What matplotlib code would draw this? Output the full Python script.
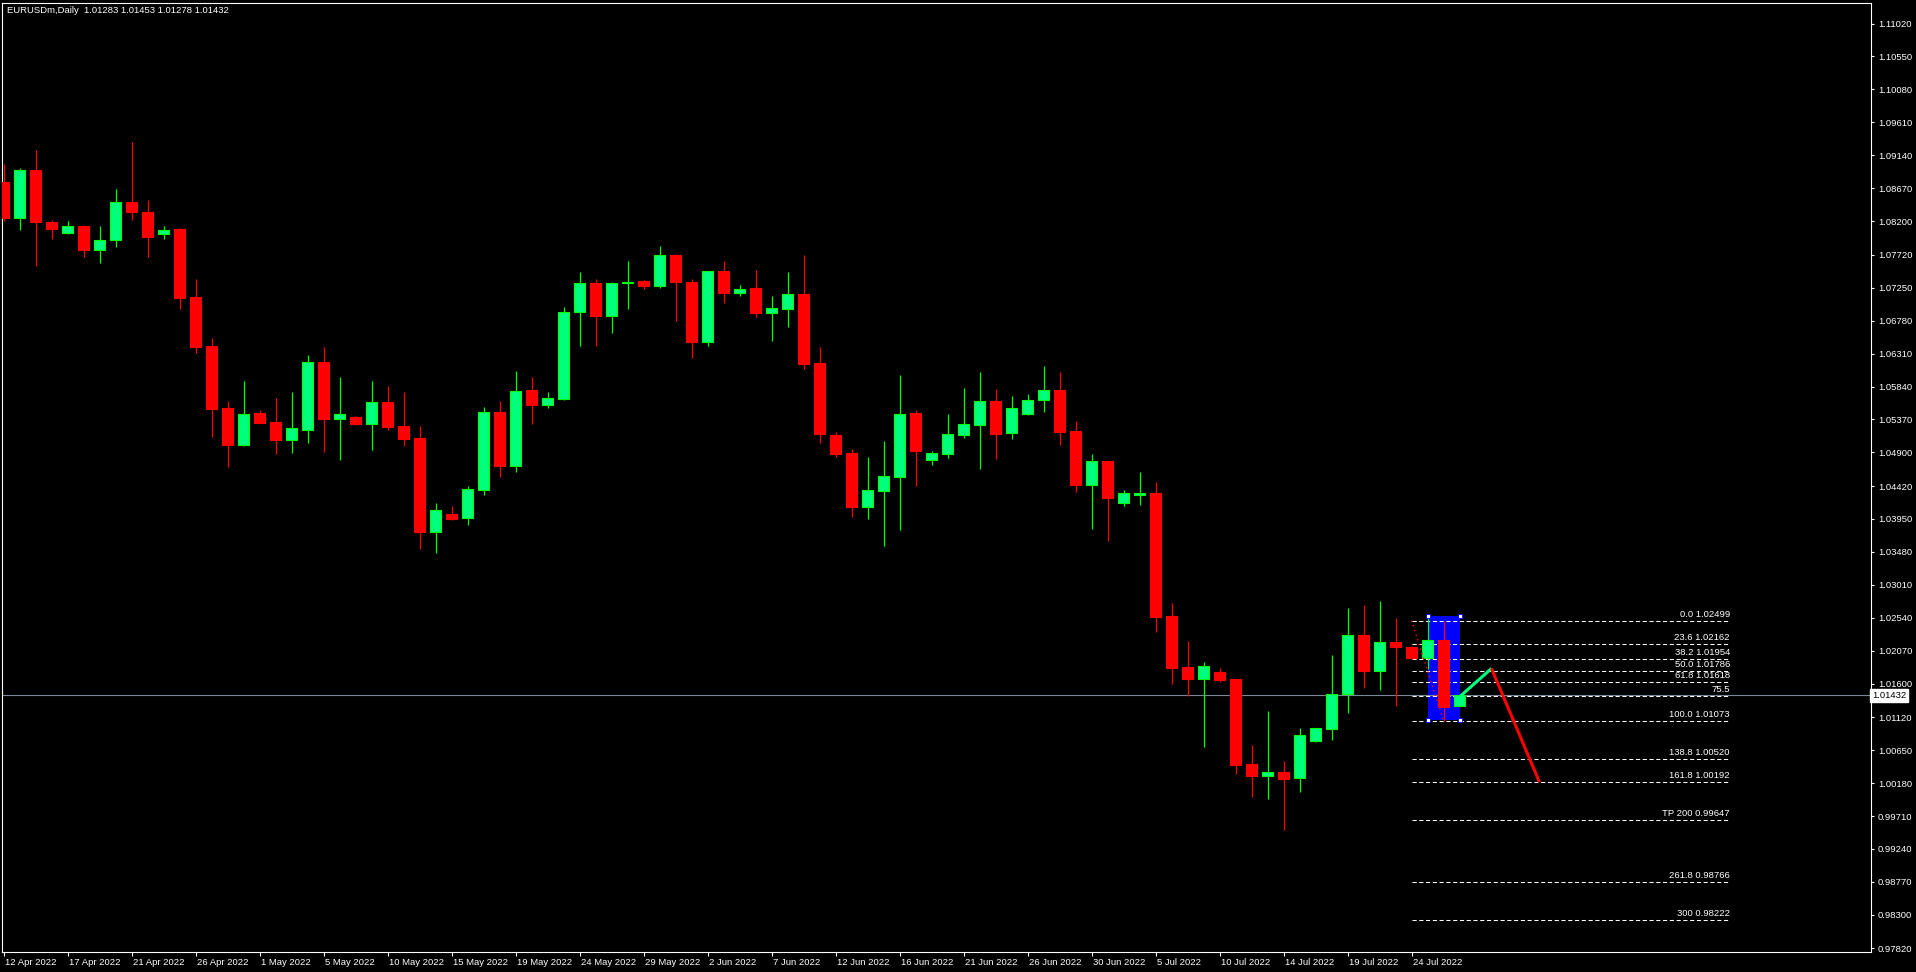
import matplotlib
matplotlib.use("Agg")
import matplotlib.pyplot as plt
import matplotlib.transforms as mtransforms
import numpy as np

# ---------------- data ----------------
title_text = "EURUSDm,Daily  1.01283 1.01453 1.01278 1.01432"

opens = [1.08763, 1.08239, 1.08929, 1.08187, 1.08025, 1.08134, 1.07782, 1.07924, 1.08472, 1.08329,
         1.08010, 1.08086, 1.07115, 1.06415, 1.05529, 1.05010, 1.05458, 1.05329, 1.05082, 1.05225,
         1.06191, 1.05382, 1.05406, 1.05310, 1.05620, 1.05277, 1.05106, 1.03768, 1.04020, 1.03968,
         1.04368, 1.05477, 1.04710, 1.05791, 1.05582, 1.05668, 1.06900, 1.07320, 1.06849, 1.07310,
         1.07349, 1.07268, 1.07720, 1.07334, 1.06482, 1.07491, 1.07168, 1.07249, 1.06882, 1.06953,
         1.07163, 1.06177, 1.05149, 1.04891, 1.04125, 1.04353, 1.04553, 1.05463, 1.04796, 1.04882,
         1.05153, 1.05296, 1.05634, 1.05182, 1.05448, 1.05653, 1.05791, 1.05206, 1.04434, 1.04777,
         1.04182, 1.04296, 1.04320, 1.02563, 1.01834, 1.01668, 1.01763, 1.01663, 1.00449, 1.00282,
         1.00334, 1.00253, 1.00782, 1.00953, 1.01453, 1.02291, 1.01782, 1.02191, 1.02120, 1.01963,
         1.02220, 1.01283]
highs = [1.09020, 1.08958, 1.09220, 1.08220, 1.08206, 1.08148, 1.08134, 1.08662, 1.09334, 1.08505,
         1.08134, 1.08105, 1.07377, 1.06534, 1.05634, 1.05920, 1.05505, 1.05677, 1.05762, 1.06291,
         1.06406, 1.05977, 1.05420, 1.05920, 1.05849, 1.05763, 1.05277, 1.04177, 1.04134, 1.04420,
         1.05549, 1.05634, 1.06063, 1.05977, 1.05763, 1.06970, 1.07480, 1.07370, 1.07334, 1.07634,
         1.07355, 1.07849, 1.07734, 1.07377, 1.07491, 1.07634, 1.07291, 1.07506, 1.07134, 1.07477,
         1.07720, 1.06406, 1.05191, 1.04949, 1.04834, 1.05063, 1.06006, 1.05506, 1.04920, 1.05449,
         1.05820, 1.06049, 1.05806, 1.05706, 1.05734, 1.06134, 1.06049, 1.05349, 1.04877, 1.04780,
         1.04363, 1.04620, 1.04477, 1.02749, 1.02206, 1.01906, 1.01820, 1.01670, 1.00720, 1.01206,
         1.00491, 1.00963, 1.00963, 1.02006, 1.02677, 1.02720, 1.02777, 1.02534, 1.02140, 1.02563,
         1.02499, 1.01453]
lows = [1.08196, 1.08068, 1.07553, 1.07939, 1.08010, 1.07682, 1.07596, 1.07824, 1.08210, 1.07682,
        1.07939, 1.06939, 1.06324, 1.05124, 1.04696, 1.04996, 1.05320, 1.04882, 1.04896, 1.05039,
        1.04910, 1.04796, 1.05287, 1.04939, 1.05225, 1.04996, 1.03525, 1.03468, 1.03939, 1.03868,
        1.04296, 1.04553, 1.04625, 1.05310, 1.05539, 1.05653, 1.06420, 1.06420, 1.06606, 1.06949,
        1.07234, 1.07249, 1.06768, 1.06253, 1.06425, 1.07025, 1.07125, 1.06825, 1.06496, 1.06696,
        1.06096, 1.05039, 1.04839, 1.03982, 1.03953, 1.03568, 1.03796, 1.04420, 1.04720, 1.04820,
        1.05106, 1.04663, 1.04806, 1.05091, 1.05440, 1.05477, 1.05006, 1.04334, 1.03806, 1.03634,
        1.04134, 1.04149, 1.02334, 1.01596, 1.01420, 1.00691, 1.01620, 1.00310, 0.99982, 0.99953,
        0.99510, 1.00053, 1.00768, 1.00796, 1.01182, 1.01539, 1.01510, 1.01282, 1.01950, 1.01810,
        1.01073, 1.01278]
closes = [1.08239, 1.08929, 1.08182, 1.08082, 1.08130, 1.07782, 1.07929, 1.08472, 1.08324, 1.07967,
          1.08072, 1.07110, 1.06410, 1.05524, 1.05010, 1.05443, 1.05324, 1.05082, 1.05243, 1.06191,
          1.05382, 1.05449, 1.05310, 1.05620, 1.05268, 1.05096, 1.03768, 1.04077, 1.03953, 1.04377,
          1.05477, 1.04710, 1.05777, 1.05582, 1.05677, 1.06900, 1.07320, 1.06849, 1.07320, 1.07334,
          1.07268, 1.07720, 1.07325, 1.06482, 1.07491, 1.07168, 1.07234, 1.06882, 1.06963, 1.07163,
          1.06168, 1.05168, 1.04882, 1.04125, 1.04363, 1.04563, 1.05449, 1.04925, 1.04887, 1.05163,
          1.05306, 1.05634, 1.05168, 1.05534, 1.05649, 1.05791, 1.05196, 1.04434, 1.04777, 1.04253,
          1.04320, 1.04320, 1.02553, 1.01825, 1.01668, 1.01849, 1.01653, 1.00439, 1.00282, 1.00334,
          1.00239, 1.00863, 1.00963, 1.01449, 1.02291, 1.01782, 1.02191, 1.02125, 1.01963, 1.02220,
          1.01263, 1.01432]

x_tick_labels = ["12 Apr 2022", "17 Apr 2022", "21 Apr 2022", "26 Apr 2022", "1 May 2022",
                 "5 May 2022", "10 May 2022", "15 May 2022", "19 May 2022", "24 May 2022",
                 "29 May 2022", "2 Jun 2022", "7 Jun 2022", "12 Jun 2022", "16 Jun 2022",
                 "21 Jun 2022", "26 Jun 2022", "30 Jun 2022", "5 Jul 2022", "10 Jul 2022",
                 "14 Jul 2022", "19 Jul 2022", "24 Jul 2022"]
x_tick_step = 4

y_tick_values = [1.11020, 1.10550, 1.10080, 1.09610, 1.09140, 1.08670, 1.08200, 1.07720, 1.07250,
                 1.06780, 1.06310, 1.05840, 1.05370, 1.04900, 1.04420, 1.03950, 1.03480, 1.03010,
                 1.02540, 1.02070, 1.01600, 1.01120, 1.00650, 1.00180, 0.99710, 0.99240, 0.98770,
                 0.98300, 0.97820]

bid_price = 1.01432

fib_labels = ["0.0 1.02499", "23.6 1.02162", "38.2 1.01954", "50.0 1.01786", "61.8 1.01618",
              "75.5", "100.0 1.01073", "138.8 1.00520", "161.8 1.00192", "TP 200 0.99647",
              "261.8 0.98766", "300 0.98222"]
fib_prices = [1.02499, 1.02162, 1.01954, 1.01786, 1.01618, 1.01422, 1.01073, 1.00520, 1.00192,
              0.99647, 0.98766, 0.98222]
fib_anchor_bars = [88, 90]
fib_anchor_prices = [1.02499, 1.01073]
fib_line_end_bar = 107.9

rect_bars = [89, 91]
rect_prices = [1.01077, 1.02563]

up_leg_bars = [91, 93]
up_leg_prices = [1.01410, 1.01816]
down_leg_bars = [93, 96]
down_leg_prices = [1.01816, 1.00192]

# ---------------- figure ----------------
FONT = ['Liberation Sans', 'DejaVu Sans']
FS = 6.8
plt.rcParams['font.family'] = FONT

W, H = 1916, 972
fig = plt.figure(figsize=(W / 100, H / 100), dpi=100, facecolor='black')
left_px, right_px, top_px, bottom_px = 2.3, 1871, 2.5, 951.5
ax = fig.add_axes([left_px / W, 1 - bottom_px / H, (right_px - left_px) / W, (bottom_px - top_px) / H])
ax.set_facecolor('black')

bar_px = 16.0
x0_px = 3.5
ax.set_xlim((left_px - x0_px) / bar_px, (right_px - x0_px) / bar_px)
ax.set_ylim(0.97777, 1.11320)

for s in ax.spines.values():
    s.set_color('white')
    s.set_linewidth(0.8)

o = np.array(opens); h = np.array(highs); l = np.array(lows); c = np.array(closes)
x = np.arange(len(o))
up = c >= o
bottoms = np.minimum(o, c)
heights = np.maximum(np.abs(c - o), 0.00010)
body_w = 11 / 16

# background objects
ax.add_patch(plt.Rectangle((rect_bars[0], rect_prices[0]), rect_bars[1] - rect_bars[0],
                           rect_prices[1] - rect_prices[0], facecolor='#0000FF', edgecolor='none', zorder=1))
ax.axhline(bid_price, color='#778899', lw=0.8, zorder=1.5)

for lab, p in zip(fib_labels, fib_prices):
    ax.hlines(p, fib_anchor_bars[0], fib_line_end_bar, colors='white', lw=0.75,
              linestyles=(0, (4, 2.5)), zorder=2)
    ax.annotate(lab, xy=(fib_line_end_bar, p), xytext=(0, 2), textcoords='offset pixels',
                ha='right', va='bottom', color='white', fontsize=FS, zorder=2)

# candles
ax.vlines(x[up], l[up], h[up], color='#00FF00', lw=0.9, zorder=3)
ax.vlines(x[~up], l[~up], h[~up], color='#FF0000', lw=0.9, zorder=3)
ax.bar(x[up], heights[up], body_w, bottom=bottoms[up], color='#00FF7F', edgecolor='#00FF00',
       linewidth=0.8, zorder=4)
ax.bar(x[~up], heights[~up], body_w, bottom=bottoms[~up], color='#FF0000', edgecolor='#FF0000',
       linewidth=0.8, zorder=4)

# fibo base line (dotted)
ax.plot(fib_anchor_bars, fib_anchor_prices, color='#FF0000', lw=1.0, ls=(0, (1, 2.5)), zorder=5)

# projection legs
ax.plot(up_leg_bars, up_leg_prices, color='#00FF7F', lw=2.2, zorder=6, solid_capstyle='butt')
ax.plot(down_leg_bars, down_leg_prices, color='#FF0000', lw=2.2, zorder=6, solid_capstyle='butt')

# rectangle handles
hx = [rect_bars[0], rect_bars[1], rect_bars[0], rect_bars[1]]
hy = [rect_prices[1], rect_prices[1], rect_prices[0], rect_prices[0]]
ax.plot(hx, hy, ls='none', marker='s', markersize=3.2, mfc='white', mec='#0000FF', mew=0.6, zorder=7)

# axes ticks
ax.yaxis.tick_right()
ax.set_yticks(y_tick_values)
ax.set_yticklabels([f"{v:.5f}" for v in y_tick_values])
ax.tick_params(axis='y', colors='white', labelcolor='white', length=2.5, width=0.8, pad=2.5,
               labelsize=FS, direction='out')
ax.set_xticks(np.arange(len(x_tick_labels)) * x_tick_step)
ax.set_xticklabels(x_tick_labels, ha='left')
ax.tick_params(axis='x', colors='white', labelcolor='white', length=3, width=0.8, pad=2,
               labelsize=FS, direction='out')
offset = mtransforms.ScaledTranslation(1.5 / 100, 0, fig.dpi_scale_trans)
for lbl in ax.get_xticklabels():
    lbl.set_transform(lbl.get_transform() + offset)

# bid price box on the price scale
trans = mtransforms.blended_transform_factory(ax.transAxes, ax.transData)
ax.text(1.0006, bid_price, f"{bid_price:.5f}", transform=trans, ha='left', va='center',
        color='black', fontsize=FS, zorder=10, clip_on=False,
        bbox=dict(boxstyle='square,pad=0.2', facecolor='white', edgecolor='white'))

# title
fig.text(7 / W, 1 - 10.5 / H, title_text, color='white', fontsize=FS, ha='left', va='center')

fig.savefig('out.png', dpi=100, facecolor='black')
